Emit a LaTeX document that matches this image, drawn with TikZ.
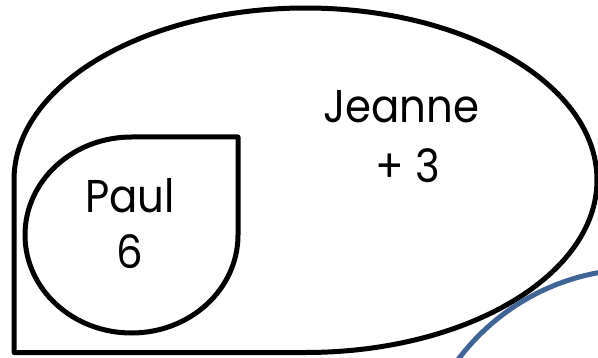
\documentclass[tikz,border=0pt]{standalone}
\usepackage{fontspec}
\setmainfont{Poppins}[FakeStretch=0.91]
\definecolor{setblue}{RGB}{64,100,150}
\tikzset{
  setline/.style={draw=black, line width=5pt, line join=round},
  bluering/.style={draw=setblue, line width=5pt},
  label/.style={font=\fontsize{46}{50}\selectfont, inner sep=0pt, anchor=base}
}
\begin{document}
\begin{tikzpicture}[x=1pt,y=1pt]
\useasboundingbox (0,0) rectangle (598,357);
% outer set (Jeanne)
\draw[setline] (14,4.5) -- (14,177)
  arc[start angle=180, end angle=0, x radius=291.5, y radius=172]
  arc[start angle=0, end angle=-90, x radius=291.5, y radius=172.5] -- cycle;
% inner set (Paul)
\draw[setline] (238,220) -- (238,122)
  arc[start angle=0, end angle=-180, x radius=106.5, y radius=98]
  arc[start angle=180, end angle=90, x radius=106.5, y radius=98] -- cycle;
% blue ring, partly visible
\begin{scope}
  \clip (0,0) rectangle (598,357);
  \draw[bluering] (639,-138) circle[radius=226];
\end{scope}
\node[label] (jeanne) at (401,234) {Jeanne};
\node[label] (jeannenum) at (408,175) {+ 3};
\node[label] (paul) at (130,145) {Paul};
\node[label] (paulnum) at (130,89) {6};
\end{tikzpicture}
\end{document}
